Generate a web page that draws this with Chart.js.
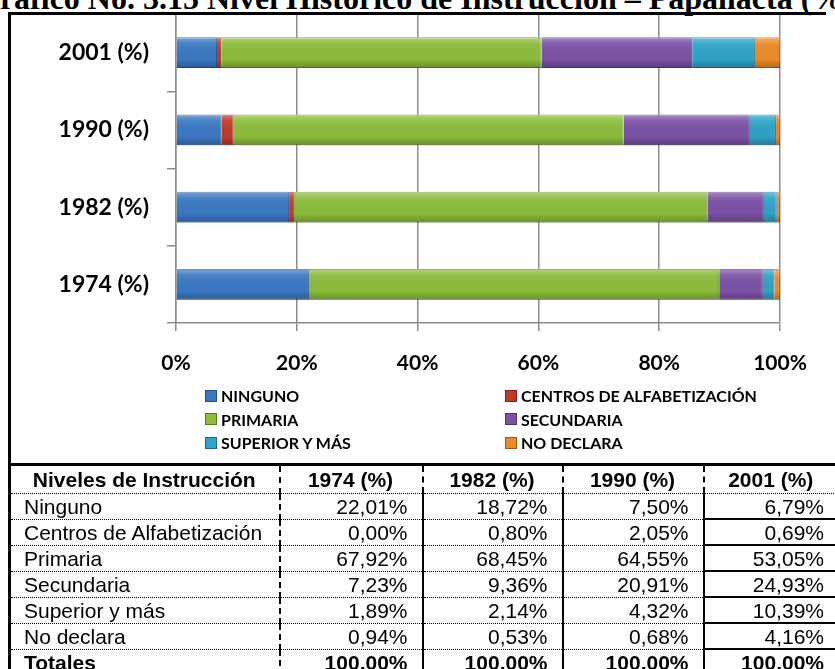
<!DOCTYPE html>
<html>
<head>
<meta charset="utf-8">
<script src="https://cdn.jsdelivr.net/npm/chart.js@4.4.0/dist/chart.umd.min.js"></script>
<style>
    body { margin: 0; background: #fff; width: 835px; height: 669px; overflow: hidden; position: relative; font-family: "Liberation Sans", Arial, sans-serif; }
    #title { position: absolute; left: -25px; top: -18px; font: bold 32px/32px "Liberation Serif", "Times New Roman", serif; white-space: nowrap; }
    #chartBox { position: absolute; left: 0; top: 0; width: 835px; height: 465px; }
    #frame { position: absolute; left: 8px; top: 12px; width: 818px; height: 454px; border-left: 3px solid #000; border-top: 3px solid #000; box-sizing: border-box; pointer-events: none; }
    #legend { position: absolute; left: 205px; top: 384px; display: grid; grid-template-columns: 300px 300px; font: bold 16px Lato, sans-serif; color: #000; }
    #legend .item { height: 23.5px; display: flex; align-items: center; }
    #legend .box { width: 12px; height: 12px; margin-right: 4px; box-sizing: border-box; border: 1px solid rgba(0,0,0,0.35); }
    table { position: absolute; left: 8px; top: 463px; width: 830px; border-collapse: collapse; table-layout: fixed; font-size: 21px; color: #000; }
    th, td { padding: 0 14px 0 13px; white-space: nowrap; line-height: 23px; height: 24px; border-bottom: 1.5px dotted #000; }
    th { height: 27px; font-weight: bold; text-align: center; border-top: 3px solid #000; border-right: 2px dashed #000; }
    td { text-align: right; border-right: 2px solid #000; }
    td:first-child { text-align: left; }
    th:first-child, td:first-child { border-left: 3px solid #000; border-right: 2px dashed #000; }
    td:last-child { border-bottom: 2px solid #000; border-right: none; }
    th:last-child { border-right: none; }
    tr.total td { font-weight: bold; }
</style>
</head>
<body>
<div id="title">Gráfico No. 3.15 Nivel Histórico de Instrucción – Papallacta (%)</div>
<div id="chartBox"><canvas id="chart"></canvas></div>
<div id="frame"></div>
<div id="legend"></div>
<table id="tabla"></table>
<script>
const years = ['1974 (%)', '1982 (%)', '1990 (%)', '2001 (%)'];
const levels = ['Ninguno', 'Centros de Alfabetización', 'Primaria', 'Secundaria', 'Superior y más', 'No declara'];
const legendNames = ['NINGUNO', 'CENTROS DE ALFABETIZACIÓN', 'PRIMARIA', 'SECUNDARIA', 'SUPERIOR Y MÁS', 'NO DECLARA'];
const ninguno = [22.01, 18.72, 7.50, 6.79];
const centros = [0.00, 0.80, 2.05, 0.69];
const primaria = [67.92, 68.45, 64.55, 53.05];
const secundaria = [7.23, 9.36, 20.91, 24.93];
const superior = [1.89, 2.14, 4.32, 10.39];
const noDeclara = [0.94, 0.53, 0.68, 4.16];
const totales = [100, 100, 100, 100];
const xTicks = [0, 20, 40, 60, 80, 100];

const series = [ninguno, centros, primaria, secundaria, superior, noDeclara],
    colors = ['#3b78c2', '#c0392f', '#8dbb3c', '#7b52a6', '#2fa3c6', '#ec8a2a'],
    edges = ['#2a5a94', '#8e2a22', '#6a8f2a', '#5a3a7e', '#217c97', '#b8651a'],
    gridGray = '#8c8c8c';

// light top / dark bottom on each bar, like the office bevel
const bevel = {
    id: 'bevel',
    afterDatasetsDraw(chart) {
        const c = chart.ctx;
        chart.data.datasets.forEach((ds, i) => {
            chart.getDatasetMeta(i).data.forEach(bar => {
                const p = bar.getProps(['x', 'y', 'base', 'height'], true);
                const w = p.x - p.base;
                if (w <= 0) return;
                const top = p.y - p.height / 2;
                const g = c.createLinearGradient(0, top, 0, top + p.height);
                g.addColorStop(0, 'rgba(255,255,255,0.35)');
                g.addColorStop(0.2, 'rgba(255,255,255,0.08)');
                g.addColorStop(0.7, 'rgba(0,0,0,0)');
                g.addColorStop(1, 'rgba(0,0,0,0.25)');
                c.save();
                c.fillStyle = g;
                c.fillRect(p.base, top, w, p.height);
                c.restore();
            });
        });
    }
};

const myChart = new Chart(document.getElementById('chart').getContext('2d'), {
    type: 'bar',
    data: {
        labels: years,
        datasets: series.map((d, i) => ({
            label: legendNames[i],
            data: d,
            backgroundColor: colors[i],
            borderColor: edges[i],
            borderWidth: 1,
            categoryPercentage: 1,
            barPercentage: 0.4
        }))
    },
    options: {
        indexAxis: 'y',
        responsive: true,
        maintainAspectRatio: false,
        animation: false,
        layout: { padding: { top: 14, right: 55, bottom: 0, left: 0 } },
        plugins: { legend: { display: false }, tooltip: { enabled: false } },
        scales: {
            x: {
                stacked: true,
                min: 0,
                max: 100,
                afterBuildTicks: s => { s.ticks = xTicks.map(v => ({ value: v })); },
                afterFit: s => { s.height = 142; s.paddingLeft = 0; s.paddingRight = 0; },
                grid: { color: gridGray, lineWidth: 1.5, tickLength: 8 },
                border: { color: gridGray, width: 1.5 },
                ticks: {
                    padding: 20,
                    color: '#000',
                    font: { family: 'Lato', weight: 'bold', size: 21 },
                    callback: v => v + '%'
                }
            },
            y: {
                stacked: true,
                reverse: true,
                afterFit: s => { s.width = 176; s.paddingTop = 0; s.paddingBottom = 0; },
                grid: { drawOnChartArea: false, color: gridGray, lineWidth: 1.5, tickLength: 9 },
                border: { color: gridGray, width: 1.5 },
                ticks: {
                    padding: 18,
                    color: '#000',
                    font: { family: 'Lato', weight: 'bold', size: 23 }
                }
            }
        }
    },
    plugins: [bevel]
});

// legend in two columns, built from the datasets
const legend = document.getElementById('legend');
myChart.data.datasets.forEach(ds => {
    const item = document.createElement('div');
    item.className = 'item';
    item.innerHTML = `<span class="box" style="background:${ds.backgroundColor}"></span>${ds.label}`;
    legend.appendChild(item);
});

// table under the chart
const fmt = v => v.toFixed(2).replace('.', ',') + '%';
let html = '<colgroup><col style="width:270px"><col style="width:143px"><col style="width:140px"><col style="width:141px"><col></colgroup>';
html += '<tr><th>Niveles de Instrucción</th>' + years.map(y => `<th>${y}</th>`).join('') + '</tr>';
levels.forEach((name, i) => {
    html += `<tr><td>${name}</td>` + series[i].map(v => `<td>${fmt(v)}</td>`).join('') + '</tr>';
});
html += '<tr class="total"><td>Totales</td>' + totales.map(v => `<td>${fmt(v)}</td>`).join('') + '</tr>';
document.getElementById('tabla').innerHTML = html;
</script>
</body>
</html>
